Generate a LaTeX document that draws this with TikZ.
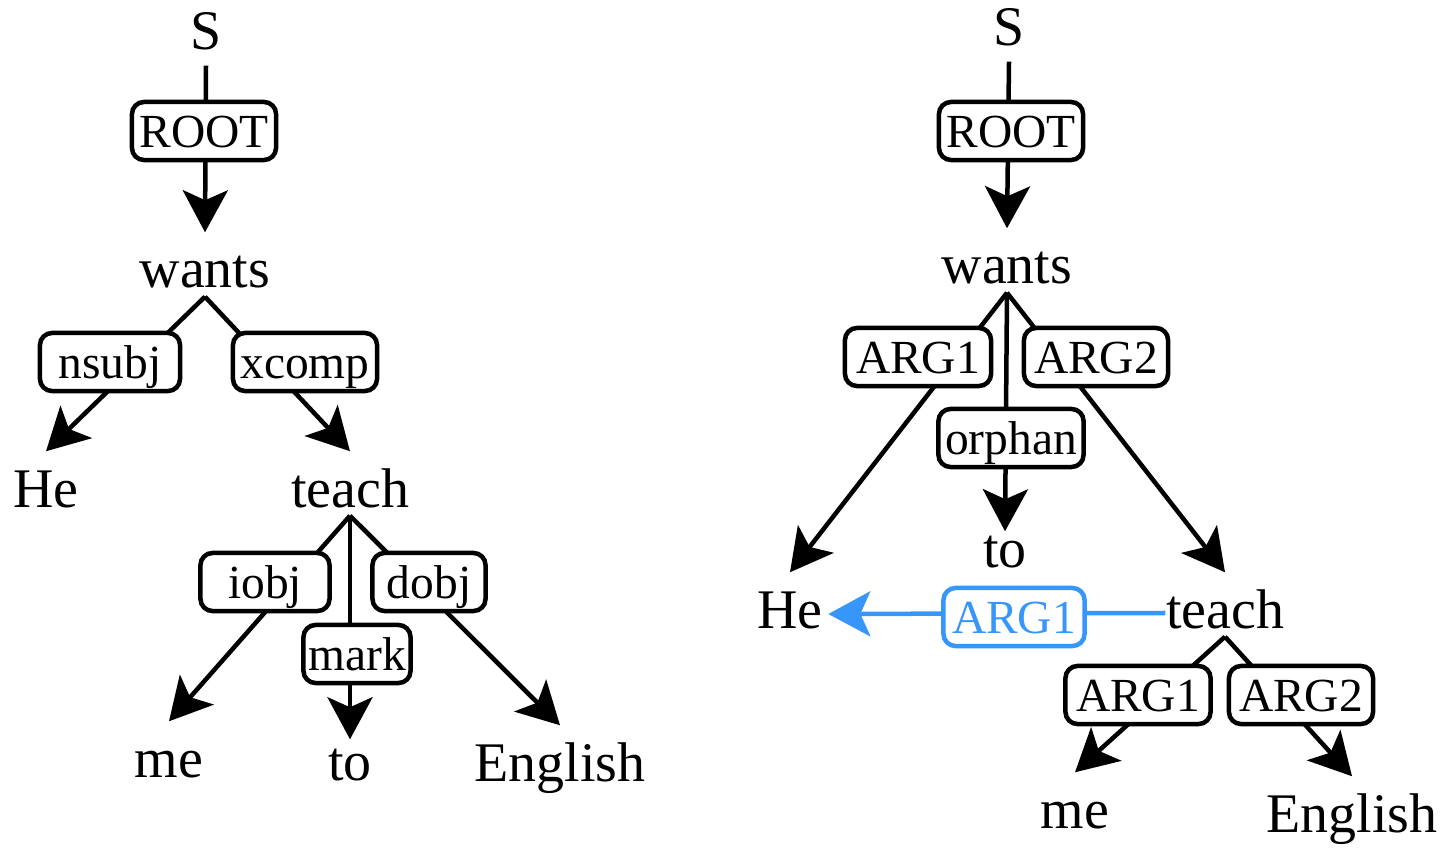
\documentclass[tikz,border=0pt]{standalone}
\usepackage{fontspec}
\setmainfont{Liberation Serif}
\usepackage{xcolor}
\usepackage{tikz}
\usetikzlibrary{arrows.meta}
\definecolor{argblue}{RGB}{55,150,250}

\begin{document}
\begin{tikzpicture}[x=0.01cm, y=-0.01cm, >={Stealth[length=0.42cm, width=0.45cm, inset=0.1cm]},
  word/.style={font=\fontsize{15.9}{18}\selectfont, anchor=base, inner xsep=0.05cm, inner ysep=0.08cm, text height=0.47cm, text depth=0pt},
  rel/.style={draw, fill=white, rounded corners=0.12cm, line width=0.045cm, inner sep=0pt, font=\fontsize{13.5}{16}\selectfont, text height=0.32cm, text depth=0pt, minimum height=0.58cm}]
\useasboundingbox (0,0) rectangle (1446,852);
\node[word] (S) at (206,50) {S};
\node[word] (wants) at (205,288) {wants};
\draw[->, line width=0.045cm] ([yshift=-0.07cm]S.south) -- (wants.north) node[rel, minimum width=1.44cm] (root) at (204,131) {ROOT};
\node[word] (He) at (46,507) {He};
\node[word] (teach) at (350,507) {teach};
\draw[->, line width=0.045cm] (wants.south) -- (He.north) node[rel, minimum width=1.40cm] (nsubj) at (110,362) {nsubj};
\draw[->, line width=0.045cm] (wants.south) -- (teach.north) node[rel, minimum width=1.44cm] (xcomp) at (305,362) {xcomp};
\node[word] (me) at (169,777) {me};
\node[word] (to) at (350,780) {to};
\node[word] (English) at (560,781) {English};
\draw[->, line width=0.045cm] (teach.south) -- (me.north) node[rel, minimum width=1.29cm] (iobj) at (265,582) {iobj};
\draw[->, line width=0.045cm] (teach.south) -- ([yshift=-0.15cm]to.north) node[rel, minimum width=1.07cm] (mark) at (357,654) {mark};
\draw[->, line width=0.045cm] (teach.south) -- (English.north) node[rel, minimum width=1.13cm] (dobj) at (429,582) {dobj};

\node[word] (S2) at (1009,46) {S};
\node[word] (wants2) at (1007,284) {wants};
\draw[->, line width=0.045cm] ([yshift=-0.07cm]S2.south) -- (wants2.north) node[rel, minimum width=1.44cm] (root2) at (1011,131) {ROOT};
\node[word] (He2) at (790,628) {He};
\node[word] (to2) at (1005,567) {to};
\node[word] (teach2) at (1225,628) {teach};
\draw[->, line width=0.045cm] (wants2.south) -- (He2.north) node[rel, minimum width=1.46cm] (arg1) at (918,357) {ARG1};
\draw[->, line width=0.045cm] (wants2.south) -- ([yshift=-0.2cm]to2.north) node[rel, minimum width=1.45cm] (orphan) at (1011,438) {orphan};
\draw[->, line width=0.045cm] (wants2.south) -- (teach2.north) node[rel, minimum width=1.44cm] (arg2) at (1096,357) {ARG2};
\draw[->, argblue, line width=0.045cm] ([yshift=0.15cm, xshift=0.05cm]teach2.base west) -- ([yshift=0.14cm]He2.base east) node[rel, draw=argblue, text=argblue, minimum width=1.41cm] (arg1b) at (1014,617) {ARG1};
\node[word] (me2) at (1075,828) {me};
\node[word] (English2) at (1352,832) {English};
\draw[->, line width=0.045cm] (teach2.south) -- (me2.north) node[rel, minimum width=1.45cm] (arg1c) at (1138,695) {ARG1};
\draw[->, line width=0.045cm] (teach2.south) -- (English2.north) node[rel, minimum width=1.44cm] (arg2c) at (1301,695) {ARG2};
\end{tikzpicture}
\end{document}
